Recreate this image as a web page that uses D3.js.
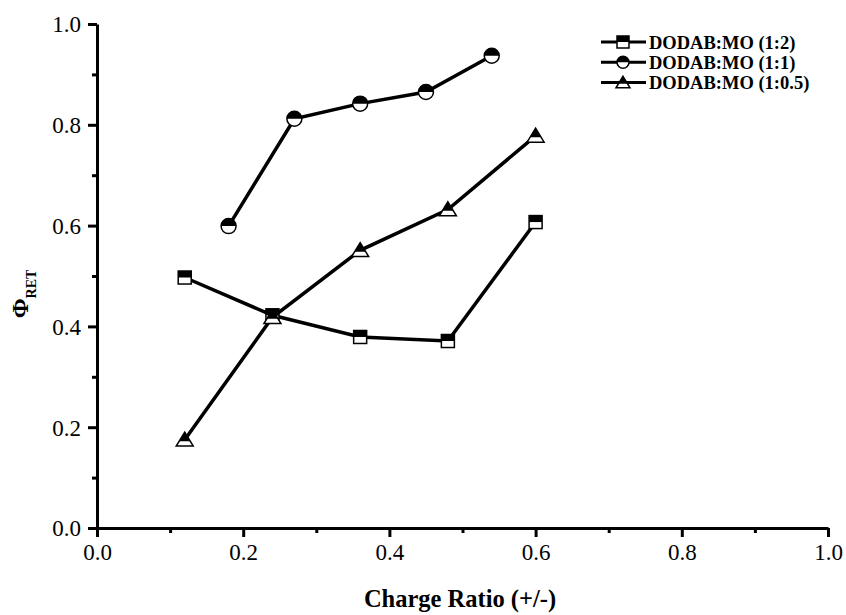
<!DOCTYPE html>
<html>
<head>
<meta charset="utf-8">
<script src="https://cdn.jsdelivr.net/npm/d3@7"></script>
<style>
  body { margin: 0; background: #fff; }
  svg text { font-family: "Liberation Serif", "Times New Roman", serif; }
</style>
</head>
<body>
<svg id="chart" width="846" height="615"></svg>
<script>
// data
var xSquare = [0.12, 0.24, 0.36, 0.48, 0.60];
var ySquare = [0.497, 0.422, 0.379, 0.371, 0.607];
var xCircle = [0.18, 0.27, 0.36, 0.45, 0.54];
var yCircle = [0.599, 0.812, 0.842, 0.865, 0.937];
var xTriangle = [0.12, 0.24, 0.36, 0.48, 0.60];
var yTriangle = [0.175, 0.418, 0.551, 0.632, 0.778];
var seriesNames = ["DODAB:MO (1:2)", "DODAB:MO (1:1)", "DODAB:MO (1:0.5)"];
var majorTicks = [0, 0.2, 0.4, 0.6, 0.8, 1.0];
var minorTicks = [0.1, 0.3, 0.5, 0.7, 0.9];

var svg = d3.select("#chart");

var x = d3.scaleLinear().domain([0, 1]).range([97, 828]);
var y = d3.scaleLinear().domain([0, 1]).range([528, 24]);

// minor ticks first
svg.append("g")
    .attr("transform", "translate(0,528)")
    .call(d3.axisBottom(x).tickValues(minorTicks).tickSize(5).tickFormat(""))
    .call(function(g) { g.select(".domain").remove(); });
svg.append("g")
    .attr("transform", "translate(97,0)")
    .call(d3.axisLeft(y).tickValues(minorTicks).tickSize(5).tickFormat(""))
    .call(function(g) { g.select(".domain").remove(); });

var xAxis = svg.append("g")
    .attr("transform", "translate(0,528)")
    .call(d3.axisBottom(x).tickValues(majorTicks).tickSize(9).tickSizeOuter(0).tickPadding(7).tickFormat(d3.format(".1f")));
var yAxis = svg.append("g")
    .attr("transform", "translate(97,0)")
    .call(d3.axisLeft(y).tickValues(majorTicks).tickSize(9).tickSizeOuter(0).tickPadding(7).tickFormat(d3.format(".1f")));

svg.selectAll("g").attr("font-family", "Liberation Serif");
svg.selectAll(".tick line").attr("stroke", "#000").attr("stroke-width", 3);
svg.selectAll(".domain").attr("stroke", "#000").attr("stroke-width", 3);
svg.selectAll(".tick text")
    .style("font-family", "'Liberation Serif', serif")
    .attr("font-size", 23)
    .attr("fill", "#000");
yAxis.selectAll(".tick text").attr("dy", "0.34em");

// axis titles
svg.append("text")
    .attr("x", 460).attr("y", 607)
    .attr("text-anchor", "middle")
    .attr("font-size", 24.5).attr("font-weight", "bold")
    .text("Charge Ratio (+/-)");

var yt = svg.append("text")
    .attr("transform", "translate(28,294) rotate(-90)")
    .attr("text-anchor", "middle")
    .attr("font-size", 24).attr("font-weight", "bold");
yt.append("tspan").text("Φ");
yt.append("tspan").attr("font-size", 14).attr("dy", 8).text("RET");

// half-filled marker shapes, centred on 0,0
function drawMarker(g, kind, s) {
  var h = s / 2;
  if (kind === "square") {
    g.append("rect").attr("x", -h).attr("y", -h).attr("width", s).attr("height", s)
      .attr("fill", "#fff").attr("stroke", "#000").attr("stroke-width", 1.5);
    g.append("rect").attr("x", -h).attr("y", -h).attr("width", s).attr("height", h)
      .attr("fill", "#000");
  } else if (kind === "circle") {
    g.append("circle").attr("r", h).attr("fill", "#fff").attr("stroke", "#000").attr("stroke-width", 1.5);
    g.append("path").attr("d", "M" + (-h) + ",0A" + h + "," + h + " 0 0 1 " + h + ",0Z").attr("fill", "#000");
  } else {
    var th = s * 0.82;
    var top = -th * 0.55, bot = th * 0.45;
    g.append("path").attr("d", "M0," + top + "L" + h + "," + bot + "L" + (-h) + "," + bot + "Z")
      .attr("fill", "#fff").attr("stroke", "#000").attr("stroke-width", 1.5).attr("stroke-linejoin", "miter");
    var mid = bot - th * 0.35;
    var frac = (mid - top) / th;
    g.append("path").attr("d", "M0," + top + "L" + (h * frac) + "," + mid + "L" + (-h * frac) + "," + mid + "Z")
      .attr("fill", "#000");
  }
}

var series = [
  { name: seriesNames[0], xs: xSquare, ys: ySquare, kind: "square", size: 13 },
  { name: seriesNames[1], xs: xCircle, ys: yCircle, kind: "circle", size: 15 },
  { name: seriesNames[2], xs: xTriangle, ys: yTriangle, kind: "triangle", size: 17 }
];

var line = d3.line().x(function(d) { return x(d[0]); }).y(function(d) { return y(d[1]); });

series.forEach(function(s) {
  var pts = d3.zip(s.xs, s.ys);
  svg.append("path").datum(pts)
    .attr("d", line)
    .attr("fill", "none").attr("stroke", "#000").attr("stroke-width", 3.5);
  pts.forEach(function(p) {
    var g = svg.append("g").attr("transform", "translate(" + x(p[0]) + "," + y(p[1]) + ")");
    drawMarker(g, s.kind, s.size);
  });
});

// legend
var legend = svg.append("g");
series.forEach(function(s, i) {
  var ly = 42 + i * 20.3;
  legend.append("line").attr("x1", 601).attr("x2", 646).attr("y1", ly).attr("y2", ly)
    .attr("stroke", "#000").attr("stroke-width", 3);
  var g = legend.append("g").attr("transform", "translate(623," + ly + ")");
  drawMarker(g, s.kind, s.kind === "triangle" ? 14 : 12);
  legend.append("text").attr("x", 649).attr("y", ly + 6.5)
    .attr("font-size", 18.5).attr("font-weight", "bold")
    .text(s.name);
});
</script>
</body>
</html>
